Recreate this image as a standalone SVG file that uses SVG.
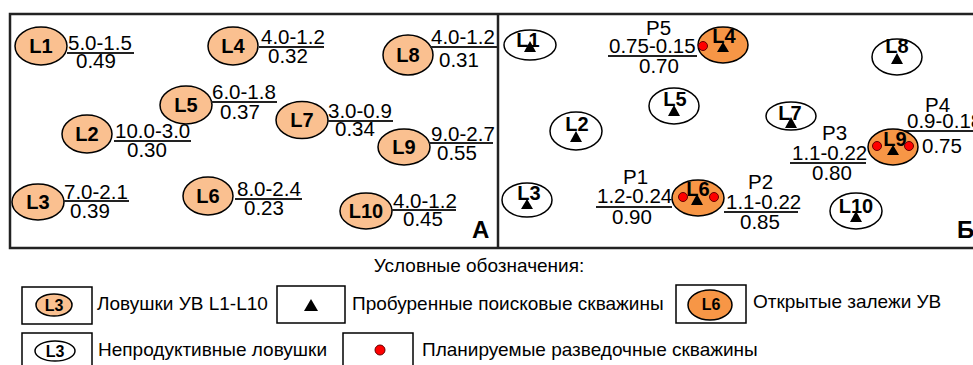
<svg xmlns="http://www.w3.org/2000/svg" width="973" height="365" viewBox="0 0 973 365">
<style>
text{font-family:"Liberation Sans",Arial,sans-serif;fill:#000}
.t{font-size:20.5px}
.lg{font-size:19px}
.lb{font-size:20px;font-weight:bold;text-anchor:middle}
.lbs{font-size:16px;font-weight:bold;text-anchor:middle}
.big{font-size:24px;font-weight:bold}
.pe{fill:#FAC090;stroke:#000;stroke-width:1.5}
.or{fill:#F79646;stroke:#000;stroke-width:1.5}
.wh{fill:#fff;stroke:#000;stroke-width:1.5}
.ul{stroke:#222;stroke-width:2}
.tri{fill:#000}
.dot{fill:#f00;stroke:#600;stroke-width:1}
.frame{fill:none;stroke:#222;stroke-width:2.5}
.box{fill:#fff;stroke:#000;stroke-width:1.5}
</style>
<rect width="973" height="365" fill="#fff"/>
<g id="frames">
<path class="frame" d="M990 14H10V248H990"/>
<line class="frame" x1="498" y1="14" x2="498" y2="248"/>
<text class="big" x="472" y="238">А</text>
<text class="big" x="957" y="238">Б</text>
</g>
<g id="connectors"/>
<!-- Panel A -->
<g id="A-L1"><ellipse class="pe" cx="41" cy="46" rx="26" ry="19"/><text class="lb" x="41" y="53">L1</text>
<text class="t" x="68" y="50">5.0-1.5</text><line class="ul" x1="67" y1="53" x2="134" y2="53"/><text class="t" x="76" y="68">0.49</text></g>
<g id="A-L4"><ellipse class="pe" cx="233" cy="46" rx="25" ry="19"/><text class="lb" x="233" y="53">L4</text>
<text class="t" x="261" y="44">4.0-1.2</text><line class="ul" x1="259" y1="47" x2="324" y2="47"/><text class="t" x="268" y="63">0.32</text></g>
<g id="A-L8"><ellipse class="pe" cx="408" cy="55" rx="25" ry="20"/><text class="lb" x="408" y="62">L8</text>
<text class="t" x="431" y="44">4.0-1.2</text><line class="ul" x1="430" y1="47" x2="497" y2="47"/><text class="t" x="439" y="67">0.31</text></g>
<g id="A-L5"><ellipse class="pe" cx="186" cy="105" rx="26" ry="19"/><text class="lb" x="186" y="112">L5</text>
<text class="t" x="212" y="99">6.0-1.8</text><line class="ul" x1="211" y1="102" x2="277" y2="102"/><text class="t" x="220" y="119">0.37</text></g>
<g id="A-L7"><ellipse class="pe" cx="302" cy="120" rx="26" ry="18.5"/><text class="lb" x="302" y="127">L7</text>
<text class="t" x="328" y="118">3.0-0.9</text><line class="ul" x1="327" y1="121" x2="393" y2="121"/><text class="t" x="335" y="136">0.34</text></g>
<g id="A-L2"><ellipse class="pe" cx="87" cy="134" rx="25" ry="19"/><text class="lb" x="87" y="141">L2</text>
<text class="t" x="115" y="138">10.0-3.0</text><line class="ul" x1="114" y1="141" x2="191" y2="141"/><text class="t" x="127" y="157">0.30</text></g>
<g id="A-L9"><ellipse class="pe" cx="404" cy="147" rx="26" ry="18"/><text class="lb" x="404" y="154">L9</text>
<text class="t" x="431" y="141">9.0-2.7</text><line class="ul" x1="429" y1="143" x2="493" y2="143"/><text class="t" x="437" y="160">0.55</text></g>
<g id="A-L3"><ellipse class="pe" cx="38" cy="202" rx="26" ry="18"/><text class="lb" x="38" y="209">L3</text>
<text class="t" x="64" y="199">7.0-2.1</text><line class="ul" x1="63" y1="201" x2="129" y2="201"/><text class="t" x="70" y="218">0.39</text></g>
<g id="A-L6"><ellipse class="pe" cx="208" cy="196" rx="25" ry="19"/><text class="lb" x="208" y="203">L6</text>
<text class="t" x="237" y="196">8.0-2.4</text><line class="ul" x1="235" y1="199" x2="302" y2="199"/><text class="t" x="244" y="215">0.23</text></g>
<g id="A-L10"><ellipse class="pe" cx="366" cy="211" rx="26" ry="18"/><text class="lb" x="366" y="218">L10</text>
<text class="t" x="393" y="208">4.0-1.2</text><line class="ul" x1="391" y1="210" x2="456" y2="210"/><text class="t" x="403" y="226">0.45</text></g>
<!-- Panel B -->
<g id="B-L1"><ellipse class="wh" cx="530" cy="45" rx="26" ry="15"/><text class="lb" x="528" y="47">L1</text><path class="tri" d="M530 41L536 52H524Z"/></g>
<g id="B-L4"><ellipse class="or" cx="723" cy="45" rx="25" ry="18"/><text class="lb" x="724" y="43">L4</text><path class="tri" d="M723 42L729 52H717Z"/><circle class="dot" cx="703" cy="46" r="4.5"/></g>
<g id="B-P5"><text class="t" x="646" y="35">P5</text><text class="t" x="609" y="53">0.75-0.15</text><line class="ul" x1="608" y1="56" x2="697" y2="56"/><text class="t" x="639" y="73">0.70</text></g>
<g id="B-L8"><ellipse class="wh" cx="897" cy="57" rx="25" ry="18"/><text class="lb" x="897" y="53">L8</text><path class="tri" d="M897 53L903 64H891Z"/></g>
<g id="B-L5"><ellipse class="wh" cx="674" cy="106" rx="25" ry="18"/><text class="lb" x="675" y="106">L5</text><path class="tri" d="M674 105L680 116H668Z"/></g>
<g id="B-L7"><ellipse class="wh" cx="791" cy="116" rx="25" ry="14"/><text class="lb" x="790" y="120">L7</text><path class="tri" d="M791 117L797 128H785Z"/></g>
<g id="B-P4"><text class="t" x="925" y="112">P4</text><text class="t" x="907" y="128">0.9-0.18</text><line class="ul" x1="902" y1="131" x2="990" y2="131"/><text class="t" x="922" y="153">0.75</text></g>
<g id="B-L2"><ellipse class="wh" cx="576" cy="131" rx="26" ry="19"/><text class="lb" x="577" y="131">L2</text><path class="tri" d="M576 131L582 142H570Z"/></g>
<g id="B-P3"><text class="t" x="822" y="140">P3</text><text class="t" x="792" y="160">1.1-0.22</text><line class="ul" x1="790" y1="163" x2="866" y2="163"/><text class="t" x="812" y="180">0.80</text></g>
<g id="B-L9"><ellipse class="or" cx="893" cy="147" rx="25" ry="18"/><text class="lb" x="895" y="146">L9</text><path class="tri" d="M893 145L899 155H887Z"/><circle class="dot" cx="877" cy="146" r="4.5"/><circle class="dot" cx="909" cy="146" r="4.5"/></g>
<g id="B-L3"><ellipse class="wh" cx="527" cy="200" rx="25" ry="17"/><text class="lb" x="529" y="200">L3</text><path class="tri" d="M527 199L533 209H521Z"/></g>
<g id="B-P1"><text class="t" x="623" y="184">P1</text><text class="t" x="597" y="203">1.2-0.24</text><line class="ul" x1="596" y1="207" x2="672" y2="207"/><text class="t" x="612" y="224">0.90</text></g>
<g id="B-L6"><ellipse class="or" cx="698" cy="198" rx="26" ry="18"/><text class="lb" x="698" y="196">L6</text><path class="tri" d="M697 194L703 205H691Z"/><circle class="dot" cx="683" cy="197" r="4.5"/><circle class="dot" cx="714" cy="197" r="4.5"/></g>
<g id="B-P2"><text class="t" x="748" y="189">P2</text><text class="t" x="726" y="209">1.1-0.22</text><line class="ul" x1="724" y1="212" x2="798" y2="212"/><text class="t" x="740" y="229">0.85</text></g>
<g id="B-L10"><ellipse class="wh" cx="856" cy="211" rx="26" ry="18"/><text class="lb" x="856" y="213">L10</text><path class="tri" d="M856 211L862 222H850Z"/></g>
<!-- Legend -->
<g id="legend">
<text class="lg" x="479" y="272" text-anchor="middle">Условные обозначения:</text>
<g id="leg-trap"><rect class="box" x="22" y="287" width="70" height="37"/><ellipse class="pe" cx="54" cy="305" rx="18" ry="11"/><text class="lbs" x="54" y="311">L3</text><text class="lg" x="97" y="310">Ловушки УВ L1-L10</text></g>
<g id="leg-drilled"><rect class="box" x="277" y="286" width="68" height="37"/><path class="tri" d="M311 299L318 311H304Z"/><text class="lg" x="352" y="310">Пробуренные поисковые скважины</text></g>
<g id="leg-open"><rect class="box" x="676" y="285" width="70" height="38"/><ellipse class="or" cx="710" cy="305" rx="22" ry="15"/><text class="lbs" x="711" y="310">L6</text><text class="lg" x="753" y="308">Открытые залежи УВ</text></g>
<g id="leg-nonprod"><rect class="box" x="22" y="333" width="70" height="40"/><ellipse class="wh" cx="55" cy="351" rx="20" ry="10"/><text class="lbs" x="55" y="357">L3</text><text class="lg" x="98" y="356">Непродуктивные ловушки</text></g>
<g id="leg-planned"><rect class="box" x="343" y="333" width="70" height="40"/><circle class="dot" cx="380" cy="350" r="5"/><text class="lg" x="422" y="356">Планируемые разведочные скважины</text></g>
</g>
</svg>
